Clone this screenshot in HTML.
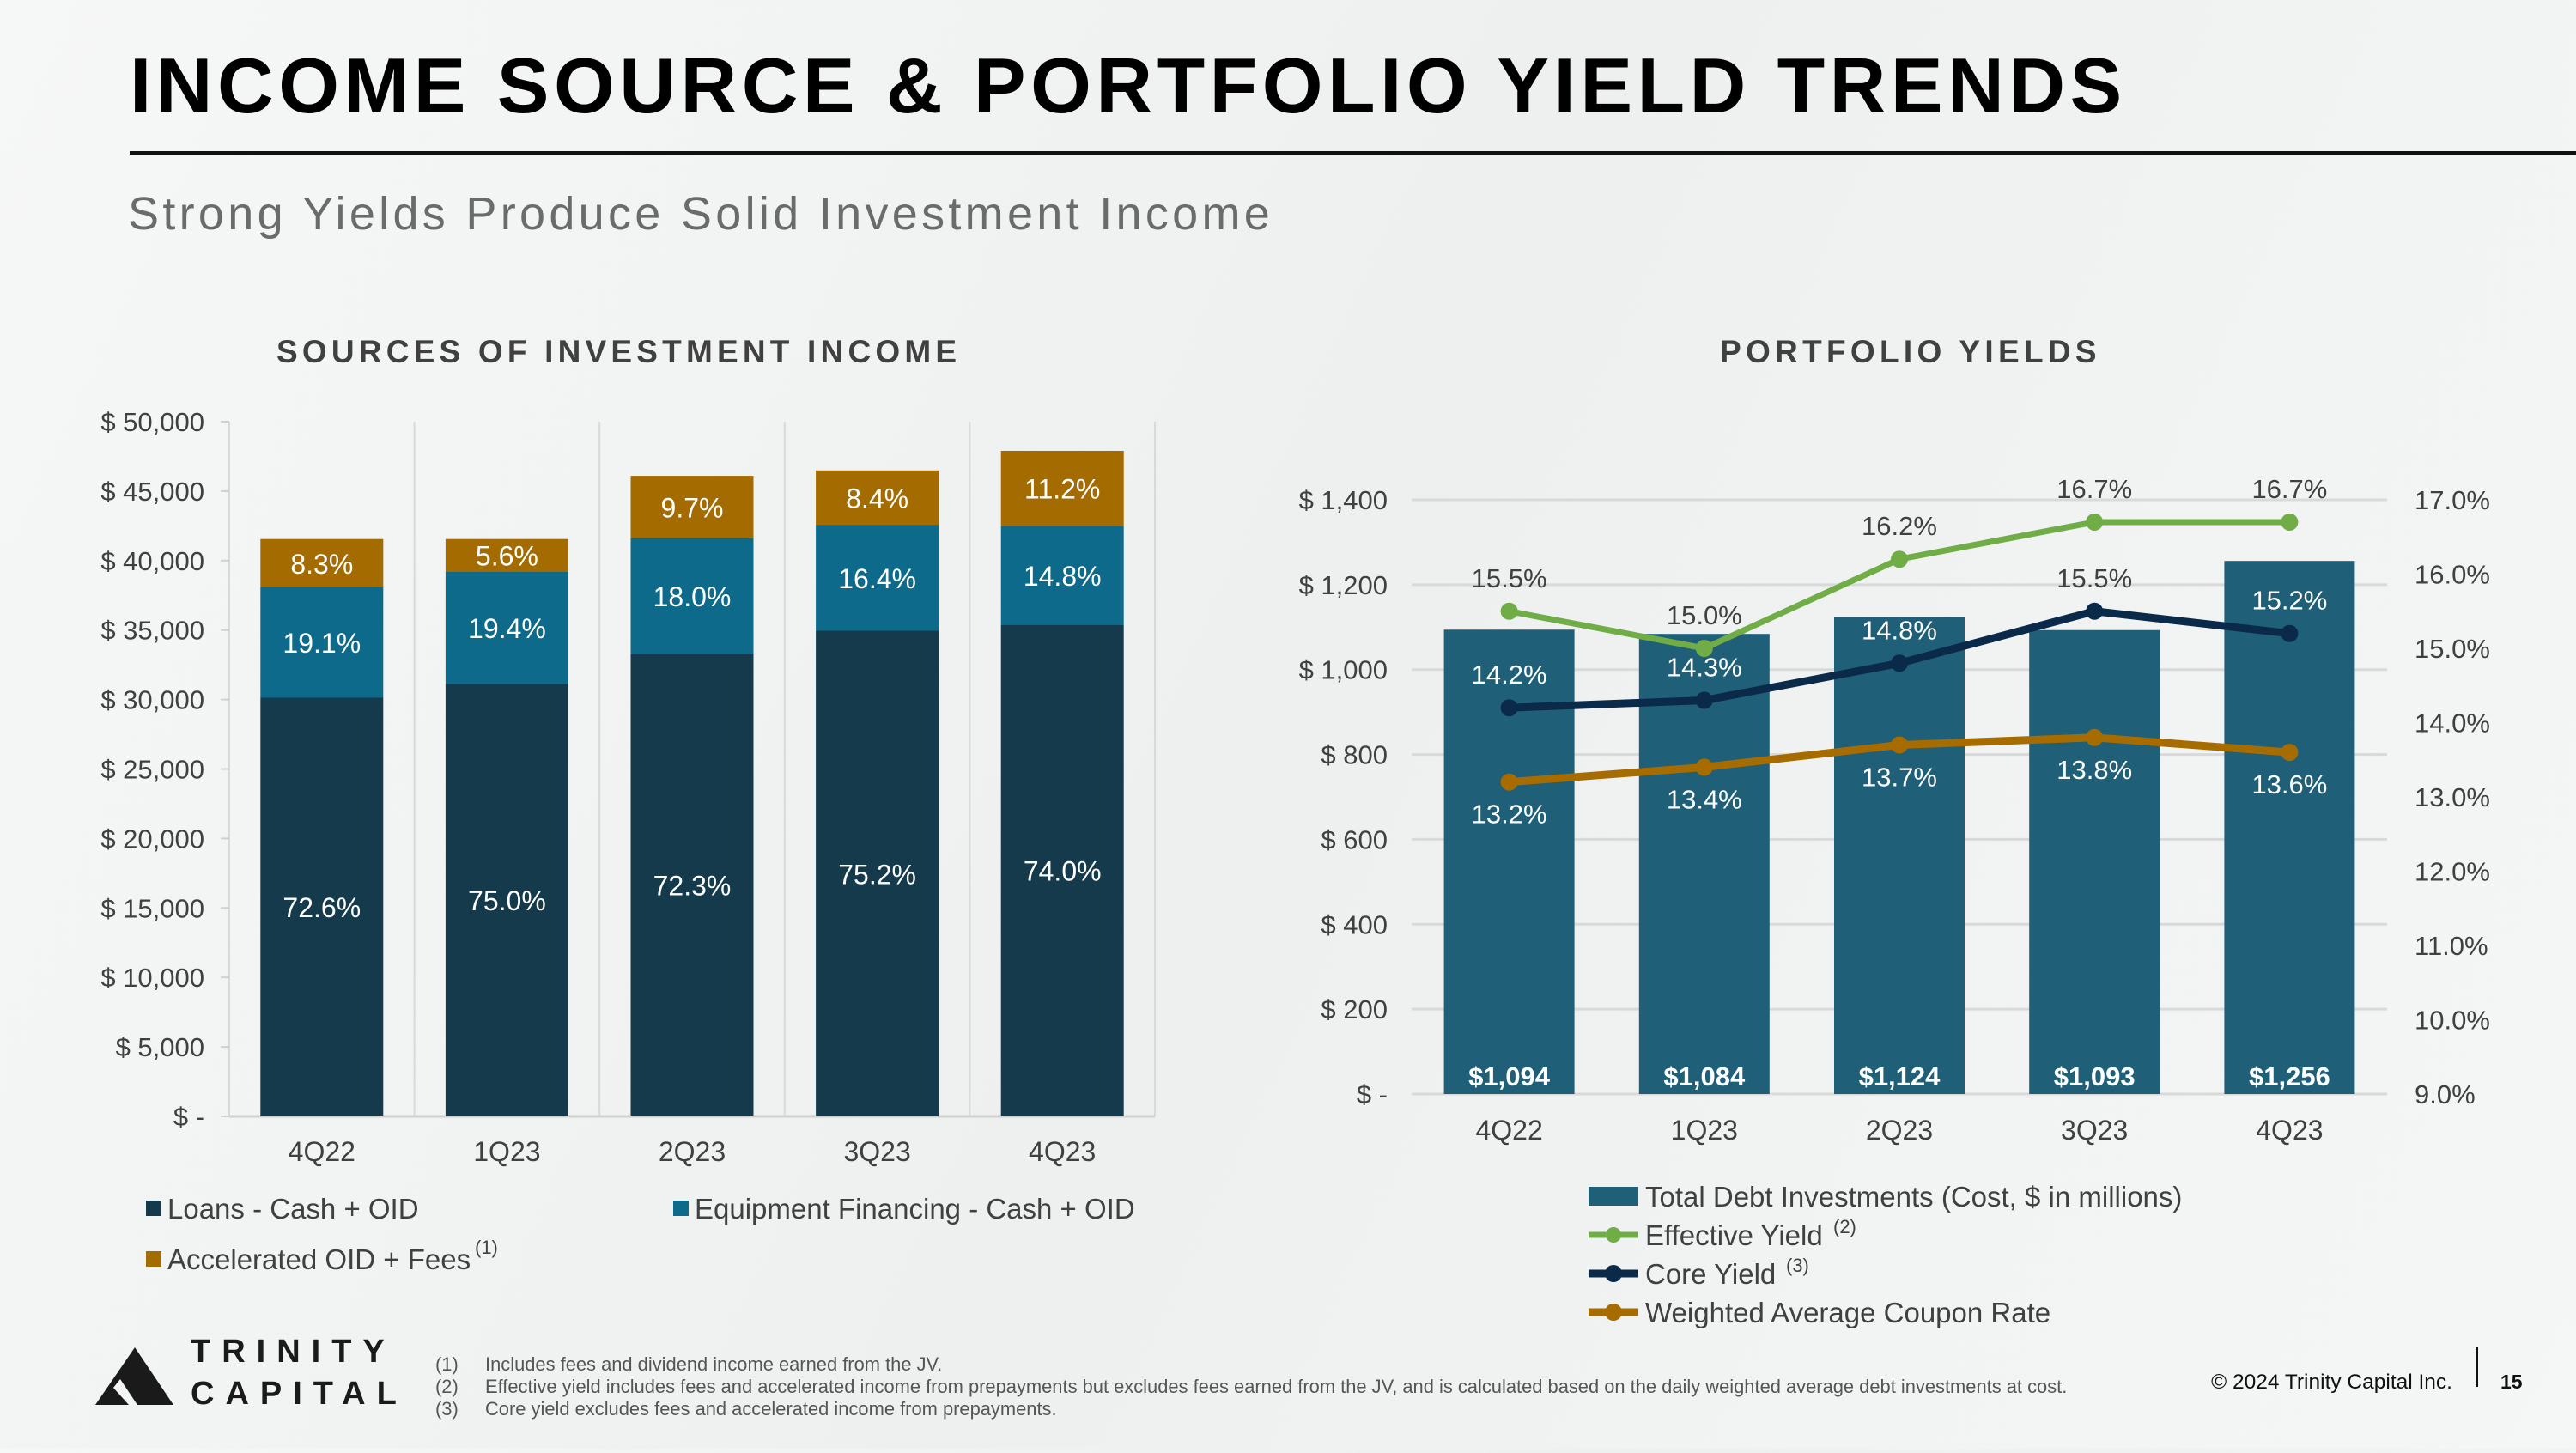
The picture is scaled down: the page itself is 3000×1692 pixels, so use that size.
<!DOCTYPE html>
<html><head><meta charset="utf-8"><style>
html,body{margin:0;padding:0;}
body{width:3000px;height:1687px;overflow:hidden;background:linear-gradient(115deg,#f6f7f7,#eef0f0 50%,#f5f6f6);font-family:"Liberation Sans",sans-serif;}
svg text{font-family:"Liberation Sans",sans-serif;}
</style></head><body>
<svg id="s" width="3000" height="1687" viewBox="0 0 3000 1687" xmlns="http://www.w3.org/2000/svg">
<text x="151" y="131" font-size="91" font-weight="bold" letter-spacing="5.5" fill="#000">INCOME SOURCE &amp; PORTFOLIO YIELD TRENDS</text>
<rect x="151" y="176" width="2849" height="4" fill="#111"/>
<text x="149" y="267" font-size="54" fill="#6b6b6b" letter-spacing="4.3">Strong Yields Produce Solid Investment Income</text>
<text x="322" y="422" font-size="37" font-weight="bold" fill="#404040" letter-spacing="5.2">SOURCES OF INVESTMENT INCOME</text>
<text x="2003" y="422" font-size="37" font-weight="bold" fill="#404040" letter-spacing="5.3">PORTFOLIO YIELDS</text>
<g id="left"></g>
<g id="right"></g>
<g>
<rect x="170" y="1398" width="18" height="18" fill="#143a4b"/>
<text x="195" y="1419" font-size="33" fill="#404040">Loans - Cash + OID</text>
<rect x="784" y="1398" width="18" height="18" fill="#0e6a8a"/>
<text x="809" y="1419" font-size="33" fill="#404040">Equipment Financing - Cash + OID</text>
<rect x="170" y="1457" width="18" height="18" fill="#a36b00"/>
<text x="195" y="1478" font-size="33" fill="#404040">Accelerated OID + Fees</text>
<text x="553" y="1460" font-size="22" fill="#404040">(1)</text>
</g>
<g>
<rect x="1850" y="1382" width="58" height="22" fill="#1f5f78"/>
<text x="1916" y="1405" font-size="33" fill="#404040">Total Debt Investments (Cost, $ in millions)</text>
<line x1="1850" y1="1438" x2="1908" y2="1438" stroke="#70ad47" stroke-width="7"/>
<circle cx="1879" cy="1438" r="9" fill="#70ad47"/>
<text x="1916" y="1450" font-size="33" fill="#404040">Effective Yield</text>
<text x="2135" y="1436" font-size="22" fill="#404040">(2)</text>
<line x1="1850" y1="1483" x2="1908" y2="1483" stroke="#0b2a4a" stroke-width="9"/>
<circle cx="1879" cy="1483" r="10" fill="#0b2a4a"/>
<text x="1916" y="1495" font-size="33" fill="#404040">Core Yield</text>
<text x="2080" y="1481" font-size="22" fill="#404040">(3)</text>
<line x1="1850" y1="1528" x2="1908" y2="1528" stroke="#a66c00" stroke-width="9"/>
<circle cx="1879" cy="1528" r="10" fill="#a66c00"/>
<text x="1916" y="1540" font-size="33" fill="#404040">Weighted Average Coupon Rate</text>
</g>
<g>
<polygon points="157,1569 111,1636 202,1636" fill="#1a1a1a"/>
<polygon points="140,1606 132,1616 150,1636 160,1636" fill="#f3f4f4"/>
<text x="222" y="1586" font-size="38" font-weight="bold" fill="#1a1a1a" letter-spacing="13">TRINITY</text>
<text x="222" y="1635" font-size="38" font-weight="bold" fill="#1a1a1a" letter-spacing="13">CAPITAL</text>
</g>
<g font-size="21.9" fill="#555">
<text x="507" y="1596">(1)</text><text x="565" y="1596">Includes fees and dividend income earned from the JV.</text>
<text x="507" y="1622">(2)</text><text x="565" y="1622">Effective yield includes fees and accelerated income from prepayments but excludes fees earned from the JV, and is calculated based on the daily weighted average debt investments at cost.</text>
<text x="507" y="1648">(3)</text><text x="565" y="1648">Core yield excludes fees and accelerated income from prepayments.</text>
</g>
<text x="2856" y="1617" font-size="24.5" fill="#111" text-anchor="end">© 2024 Trinity Capital Inc.</text>
<rect x="2883" y="1569" width="3" height="46" fill="#111"/>
<text x="2912" y="1617" font-size="23" font-weight="bold" fill="#111">15</text>
</svg>
<script>
const NS='http://www.w3.org/2000/svg';
const cats=['4Q22','1Q23','2Q23','3Q23','4Q23'];
const loansTop=[30130,31120,33290,34950,35400];
const equipTop=[38080,39210,41620,42580,42500];
const totals=[41550,41550,46100,46490,47900];
const loansPct=['72.6%','75.0%','72.3%','75.2%','74.0%'];
const equipPct=['19.1%','19.4%','18.0%','16.4%','14.8%'];
const accelPct=['8.3%','5.6%','9.7%','8.4%','11.2%'];
const leftTicks=[0,5000,10000,15000,20000,25000,30000,35000,40000,45000,50000];
const leftTickLabels=['$ -','$ 5,000','$ 10,000','$ 15,000','$ 20,000','$ 25,000','$ 30,000','$ 35,000','$ 40,000','$ 45,000','$ 50,000'];
const debt=[1094,1084,1124,1093,1256];
const debtLabels=['$1,094','$1,084','$1,124','$1,093','$1,256'];
const effective=[15.5,15.0,16.2,16.7,16.7];
const core=[14.2,14.3,14.8,15.5,15.2];
const coupon=[13.2,13.4,13.7,13.8,13.6];
const rightTicks=[0,200,400,600,800,1000,1200,1400];
const rightTickLabels=['$ -','$ 200','$ 400','$ 600','$ 800','$ 1,000','$ 1,200','$ 1,400'];
const pctTicks=[9,10,11,12,13,14,15,16,17];

function mk(parent,tag,attrs,text){const e=document.createElementNS(NS,tag);for(const k in attrs)e.setAttribute(k,attrs[k]);if(text!==undefined)e.textContent=text;parent.appendChild(e);return e;}

// left chart
const L=document.getElementById('left');
const lx0=267,lx1=1345,ly0=1300,ly1=491,lcw=(lx1-lx0)/cats.length,lbw=143;
const ly=v=>ly0-(v/50000)*(ly0-ly1);
const lxc=i=>lx0+lcw*(i+0.5);
for(let i=0;i<=cats.length;i++){
  const e=mk(L,'line',{x1:lx0+lcw*i,y1:ly1,x2:lx0+lcw*i,y2:ly0,stroke:'#d9d9d9','stroke-width':2});
  
  
}
mk(L,'line',{x1:lx0,y1:ly0,x2:lx1,y2:ly0,stroke:'#d0d0d0','stroke-width':3});
leftTicks.forEach((t,i)=>{
  const e=mk(L,'line',{x1:lx0-10,y1:ly(t),x2:lx0,y2:ly(t),stroke:'#d0d0d0','stroke-width':2});
  
  
  const tx=mk(L,'text',{x:238,y:ly(t)+11,'font-size':31,fill:'#404040','text-anchor':'end'},leftTickLabels[i]);
  
  
});
cats.forEach((c,i)=>{
  const x=lxc(i)-lbw/2;
  const segs=[[0,loansTop[i],'#143a4b',loansPct[i]],[loansTop[i],equipTop[i],'#0e6a8a',equipPct[i]],[equipTop[i],totals[i],'#a36b00',accelPct[i]]];
  const names=['bar-loans-','bar-equipment-','bar-accelerated-'];
  segs.forEach((s,k)=>{
    const r=mk(L,'rect',{x:x,y:ly(s[1]),width:lbw,height:ly(s[0])-ly(s[1]),fill:s[2]});
    
    
    const t=mk(L,'text',{x:lxc(i),y:(ly(s[0])+ly(s[1]))/2+12,'font-size':32,fill:'#fff','text-anchor':'middle'},s[3]);
    
    
  });
  const cl=mk(L,'text',{x:lxc(i),y:1352,'font-size':32,fill:'#404040','text-anchor':'middle'},c);
  
  
});

// right chart
const R=document.getElementById('right');
const rx0=1644,rx1=2780,ry0=1274,ry1=582,rcw=(rx1-rx0)/cats.length,rbw=152;
const ry=v=>ry0-(v/1400)*(ry0-ry1);
const py=p=>ry0-((p-9)/8)*(ry0-ry1);
const rxc=i=>rx0+rcw*(i+0.5);
rightTicks.forEach((t,i)=>{
  const g=mk(R,'line',{x1:rx0,y1:ry(t),x2:rx1,y2:ry(t),stroke:'#d9d9d9','stroke-width':3});
  
  
  const tx=mk(R,'text',{x:1616,y:ry(t)+11,'font-size':31,fill:'#404040','text-anchor':'end'},rightTickLabels[i]);
  
  
});
pctTicks.forEach(p=>{
  const tx=mk(R,'text',{x:2812,y:py(p)+11,'font-size':31,fill:'#404040'},p.toFixed(1)+'%');
  
  
});
cats.forEach((c,i)=>{
  const r=mk(R,'rect',{x:rxc(i)-rbw/2,y:ry(debt[i]),width:rbw,height:ry0-ry(debt[i]),fill:'#1f5f78'});
  
  
  const t=mk(R,'text',{x:rxc(i),y:1264,'font-size':31,'font-weight':'bold',fill:'#fff','text-anchor':'middle'},debtLabels[i]);
  
  
  const cl=mk(R,'text',{x:rxc(i),y:1327,'font-size':32,fill:'#404040','text-anchor':'middle'},c);
  
  
});
const series=[[coupon,'#a66c00',9,'coupon',48,'#fff'],[core,'#0b2a4a',9,'core',-28,'#fff'],[effective,'#70ad47',7,'effective',-28,'#404040']];
series.forEach(s=>{
  const pts=s[0].map((v,i)=>rxc(i)+','+py(v)).join(' ');
  const pl=mk(R,'polyline',{points:pts,fill:'none',stroke:s[1],'stroke-width':s[2],'stroke-linejoin':'round'});
  
  
  s[0].forEach((v,i)=>{
    const c=mk(R,'circle',{cx:rxc(i),cy:py(v),r:10,fill:s[1]});
    
    
    let fill=s[5];
    const ty=py(v)+s[4];
    if(s[3]==='effective'||ty<ry(debt[i])) fill='#404040';
    const t=mk(R,'text',{x:rxc(i),y:ty,'font-size':31,fill:fill,'text-anchor':'middle'},v.toFixed(1)+'%');
    
    
  });
});
</script>
</body></html>
